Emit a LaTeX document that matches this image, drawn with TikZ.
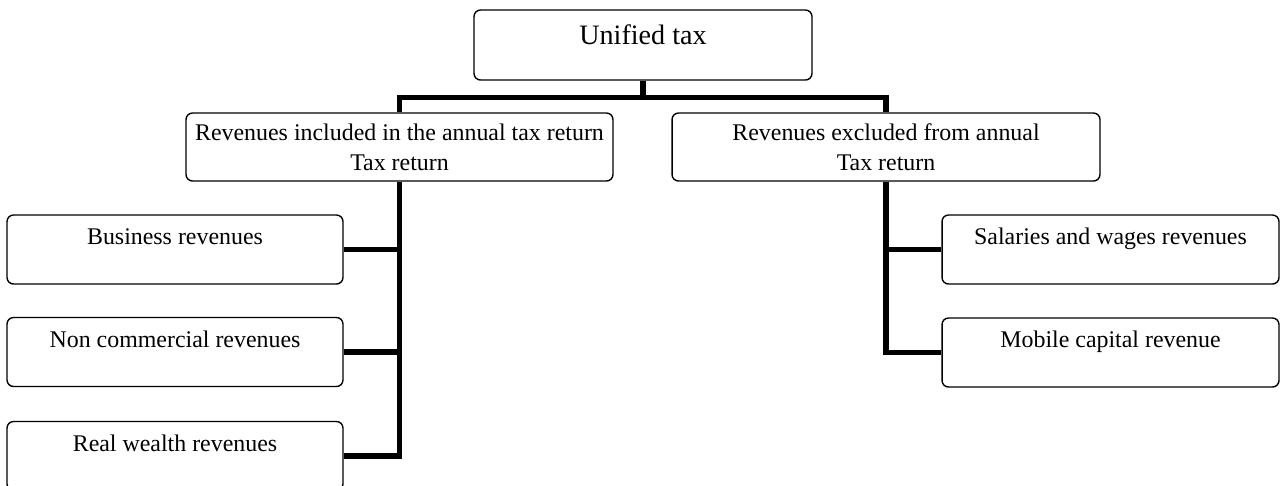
\documentclass[tikz,border=0pt]{standalone}
\usepackage{fontspec}
\setmainfont{Liberation Serif}
\usetikzlibrary{calc}

\tikzset{
  revbox/.style={draw, line width=0.8pt, rounded corners=0.13cm, inner sep=0pt,
    align=center, font=\fontsize{13.6}{17}\selectfont},
  onerow/.style={text height=0.59cm, text depth=0.79cm},
  branch/.style={line width=3.1pt},
}

\begin{document}
\begin{tikzpicture}[x=0.02cm,y=-0.02cm]
  \useasboundingbox (0,0) rectangle (1283,485);
  % top level
  \node[revbox, minimum width=6.76cm, minimum height=1.4cm, text height=0.69cm,
    text depth=0.71cm, font=\fontsize{16}{19}\selectfont] (tax) at (643,45) {Unified tax};
  % second level
  \node[revbox, minimum width=8.54cm, minimum height=1.36cm] (incl) at (399.5,147)
    {Revenues included in the annual tax return\\Tax return};
  \node[revbox, minimum width=8.56cm, minimum height=1.36cm] (excl) at (886,147)
    {Revenues excluded from annual\\Tax return};
  % left branch
  \foreach \name/\txt/\y in {busrev/Business revenues/249.5,
                             noncom/Non commercial revenues/352,
                             realw/Real wealth revenues/456} {
    \node[revbox, onerow, minimum width=6.72cm] (\name) at (175,\y) {\txt};
  }
  % right branch
  \node[revbox, onerow, minimum width=6.74cm] (salary) at (1110.5,249.5) {Salaries and wages revenues};
  \node[revbox, onerow, minimum width=6.74cm] (mobile) at (1110.5,352.5) {Mobile capital revenue};
  % connectors
  \coordinate (bus) at ($(tax.south)+(0,17)$);
  \draw[branch] (tax.south) -- (bus);
  \draw[branch] (incl.north) |- (bus) -| (excl.north);
  \draw[branch] (incl.south) |- (realw.east);
  \draw[branch] (busrev.east) -- (busrev.east -| incl.south);
  \draw[branch] (noncom.east) -- (noncom.east -| incl.south);
  \draw[branch] (excl.south) |- (mobile.west);
  \draw[branch] (salary.west) -- (salary.west -| excl.south);
\end{tikzpicture}
\end{document}
